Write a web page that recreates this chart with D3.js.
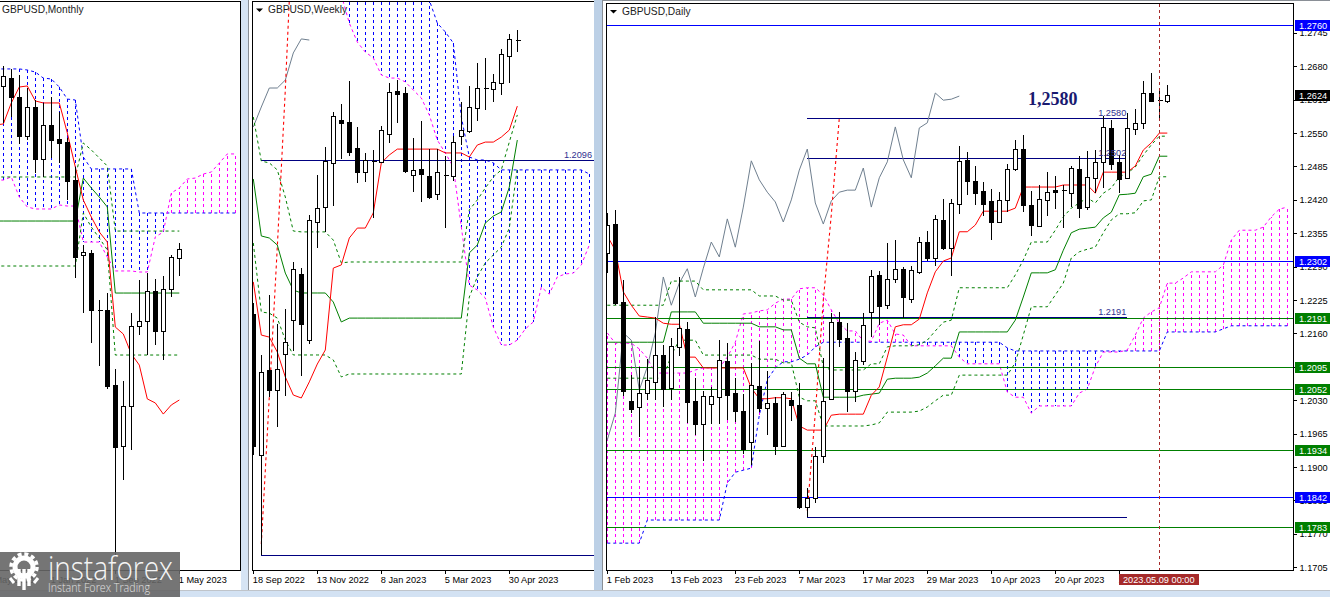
<!DOCTYPE html>
<html><head><meta charset="utf-8">
<script src="https://cdn.jsdelivr.net/npm/d3@7"></script>
<style>html,body{margin:0;padding:0;background:#d3e2f3;overflow:hidden}svg{display:block}
text{font-family:"Liberation Sans",Arial,sans-serif;font-size:9.2px;fill:#000}
</style></head><body><div id="chart"></div>
<script>
// ---------- DAILY ----------
const dailyOpen=[1.2317,1.2373,1.2221,1.2029,1.2017,1.2044,1.2066,1.2118,1.2054,1.2134,1.2169,1.2029,1.1984,1.2023,1.2036,1.2106,1.2044,1.2009,1.1949,1.2058,1.2015,1.2025,1.1941,1.2031,1.2021,1.1822,1.1840,1.1922,1.2033,1.2182,1.2151,1.2048,1.2106,1.2202,1.2274,1.2215,1.2266,1.2286,1.2227,1.2280,1.2338,1.2307,1.2381,1.2326,1.2412,1.2498,1.2457,1.2437,1.2418,1.2377,1.2420,1.2480,1.2519,1.2410,1.2369,1.2420,1.2439,1.2439,1.2433,1.2480,1.2406,1.2463,1.2494,1.2560,1.2494,1.2463,1.2558,1.2570,1.2628,1.2614,1.2612];
const dailyHigh=[1.2394,1.2400,1.2264,1.2079,1.2095,1.2110,1.2192,1.2138,1.2151,1.2270,1.2182,1.2073,1.2048,1.2056,1.2147,1.2141,1.2073,1.2042,1.2103,1.2145,1.2087,1.2036,1.2046,1.2046,1.2064,1.1859,1.1939,1.2112,1.2200,1.2202,1.2180,1.2124,1.2200,1.2284,1.2282,1.2336,1.2342,1.2289,1.2291,1.2348,1.2359,1.2391,1.2422,1.2422,1.2525,1.2513,1.2486,1.2455,1.2441,1.2435,1.2490,1.2537,1.2546,1.2437,1.2449,1.2474,1.2466,1.2449,1.2486,1.2505,1.2515,1.2517,1.2583,1.2575,1.2507,1.2589,1.2597,1.2651,1.2667,1.2638,1.2644];
const dailyLow=[1.2278,1.2215,1.2038,1.2005,1.1959,1.2031,1.2031,1.2017,1.2031,1.2116,1.1986,1.1962,1.1912,1.1984,1.1984,1.1992,1.1988,1.1925,1.1904,1.2007,1.1962,1.1924,1.1939,1.1990,1.1818,1.1803,1.1830,1.1908,1.2031,1.2134,1.2007,1.2027,1.2099,1.2153,1.2177,1.2208,1.2258,1.2190,1.2219,1.2276,1.2301,1.2291,1.2322,1.2272,1.2393,1.2430,1.2410,1.2389,1.2342,1.2375,1.2396,1.2476,1.2396,1.2350,1.2367,1.2389,1.2402,1.2365,1.2406,1.2385,1.2400,1.2433,1.2443,1.2478,1.2433,1.2461,1.2546,1.2558,1.2610,1.2575,1.2609];
const dailyClose=[1.2371,1.2219,1.2048,1.2013,1.2044,1.2070,1.2118,1.2052,1.2136,1.2171,1.2027,1.1984,1.2038,1.2038,1.2108,1.2040,1.2009,1.1935,1.2060,1.2015,1.2025,1.1941,1.2042,1.2021,1.1822,1.1840,1.1922,1.2029,1.2182,1.2149,1.2048,1.2108,1.2177,1.2272,1.2214,1.2266,1.2286,1.2231,1.2284,1.2338,1.2307,1.2383,1.2326,1.2414,1.2496,1.2457,1.2433,1.2412,1.2377,1.2420,1.2480,1.2519,1.2410,1.2371,1.2422,1.2435,1.2435,1.2439,1.2482,1.2404,1.2465,1.2494,1.2562,1.2490,1.2461,1.2560,1.2570,1.2628,1.2612,1.2612,1.2624];
const dailyTenkan=[1.2350,1.2322,1.2241,1.2215,1.2194,1.2192,1.2190,1.2180,1.2178,1.2178,1.2114,1.2114,1.2093,1.2093,1.2093,1.2093,1.2093,1.2093,1.2054,1.2033,1.2033,1.2035,1.2035,1.2033,1.1980,1.1972,1.1972,1.1972,1.2001,1.2003,1.2003,1.2003,1.2003,1.2040,1.2056,1.2114,1.2173,1.2177,1.2177,1.2188,1.2239,1.2280,1.2301,1.2307,1.2358,1.2358,1.2371,1.2398,1.2398,1.2398,1.2398,1.2404,1.2445,1.2445,1.2445,1.2445,1.2445,1.2449,1.2449,1.2449,1.2449,1.2433,1.2474,1.2474,1.2474,1.2474,1.2486,1.2517,1.2531,1.2550,1.2550];
const dailyKijun=[1.2143,1.2143,1.2143,1.2143,1.2143,1.2143,1.2143,1.2143,1.2202,1.2202,1.2202,1.2202,1.2180,1.2180,1.2180,1.2180,1.2180,1.2180,1.2180,1.2173,1.2173,1.2173,1.2167,1.2167,1.2112,1.2101,1.2101,1.2036,1.2036,1.2036,1.2036,1.2036,1.2040,1.2042,1.2044,1.2071,1.2073,1.2073,1.2073,1.2075,1.2083,1.2097,1.2112,1.2112,1.2163,1.2163,1.2163,1.2163,1.2163,1.2163,1.2163,1.2186,1.2231,1.2278,1.2278,1.2278,1.2284,1.2322,1.2356,1.2363,1.2365,1.2367,1.2385,1.2396,1.2430,1.2431,1.2433,1.2465,1.2470,1.2505,1.2505];
const dailyBandUp=[1.2215,1.2215,1.2215,1.2215,1.2215,1.2215,1.2215,1.2215,1.2262,1.2262,1.2262,1.2262,1.2245,1.2245,1.2245,1.2245,1.2245,1.2245,1.2245,1.2233,1.2233,1.2233,1.2225,1.2225,1.2182,1.2173,1.2171,1.2095,1.2089,1.2089,1.2089,1.2089,1.2089,1.2101,1.2101,1.2134,1.2136,1.2136,1.2136,1.2138,1.2147,1.2165,1.2182,1.2186,1.2249,1.2249,1.2249,1.2249,1.2249,1.2249,1.2249,1.2274,1.2303,1.2338,1.2338,1.2338,1.2361,1.2387,1.2404,1.2414,1.2424,1.2414,1.2433,1.2443,1.2465,1.2472,1.2484,1.2507,1.2527,1.2544,1.2544];
const dailyBandDown=[1.2073,1.2073,1.2073,1.2073,1.2073,1.2073,1.2073,1.2073,1.2118,1.2147,1.2147,1.2147,1.2118,1.2118,1.2118,1.2118,1.2118,1.2118,1.2118,1.2110,1.2110,1.2110,1.2103,1.2103,1.2036,1.2029,1.2029,1.1980,1.1980,1.1980,1.1980,1.1980,1.1980,1.1982,1.1986,1.2007,1.2007,1.2007,1.2007,1.2009,1.2017,1.2029,1.2040,1.2040,1.2079,1.2079,1.2079,1.2079,1.2079,1.2079,1.2079,1.2103,1.2157,1.2212,1.2212,1.2212,1.2235,1.2258,1.2307,1.2319,1.2324,1.2328,1.2356,1.2381,1.2393,1.2393,1.2395,1.2418,1.2420,1.2465,1.2465];
const dailyChikou=[1.1953,1.2005,1.2161,1.2147,1.2050,1.2095,1.2161,1.2270,1.2215,1.2258,1.2286,1.2231,1.2287,1.2338,1.2309,1.2383,1.2328,1.2406,1.2496,1.2459,1.2435,1.2416,1.2377,1.2420,1.2478,1.2519,1.2414,1.2373,1.2418,1.2435,1.2439,1.2439,1.2482,1.2406,1.2463,1.2494,1.2562,1.2498,1.2463,1.2560,1.2570,1.2628,1.2614,1.2616,1.2622];
const dailySpanBlue=[1.1752,1.1752,1.1752,1.1752,1.1752,1.1797,1.1797,1.1797,1.1797,1.1797,1.1797,1.1797,1.1797,1.1797,1.1797,1.1869,1.1890,1.1894,1.1898,1.2001,1.2070,1.2093,1.2105,1.2105,1.2110,1.2118,1.2134,1.2143,1.2143,1.2143,1.2143,1.2143,1.2143,1.2143,1.2143,1.2143,1.2143,1.2143,1.2143,1.2143,1.2143,1.2143,1.2143,1.2143,1.2143,1.2143,1.2143,1.2143,1.2143,1.2143,1.2132,1.2126,1.2126,1.2126,1.2126,1.2126,1.2126,1.2126,1.2126,1.2126,1.2126,1.2126,1.2126,1.2126,1.2126,1.2126,1.2126,1.2126,1.2126,1.2126,1.2163,1.2163,1.2163,1.2163,1.2163,1.2163,1.2163,1.2169,1.2175,1.2175,1.2175,1.2175,1.2175,1.2175,1.2175,1.2175];
const dailySpanMagenta=[1.2161,1.2141,1.2141,1.2141,1.2130,1.2112,1.2083,1.2083,1.2083,1.2083,1.2083,1.2089,1.2093,1.2093,1.2093,1.2114,1.2143,1.2198,1.2200,1.2204,1.2206,1.2219,1.2227,1.2227,1.2247,1.2249,1.2249,1.2235,1.2206,1.2180,1.2165,1.2165,1.2145,1.2145,1.2180,1.2186,1.2159,1.2157,1.2136,1.2136,1.2136,1.2136,1.2136,1.2136,1.2114,1.2101,1.2101,1.2101,1.2101,1.2101,1.2046,1.2036,1.2036,1.2005,1.2019,1.2019,1.2019,1.2019,1.2019,1.2044,1.2052,1.2095,1.2124,1.2124,1.2124,1.2128,1.2157,1.2190,1.2202,1.2210,1.2258,1.2258,1.2268,1.2280,1.2280,1.2280,1.2280,1.2293,1.2342,1.2361,1.2361,1.2361,1.2367,1.2387,1.2402,1.2406];
const dailyRedDashBars=[25,26,27,28,29];
const dailyRedDash=[1.1815,1.2005,1.2225,1.2391,1.2579];
const dailyGreenLevels=[1.2191,1.2095,1.2052,1.1934,1.1783];
const dailyBlueLevels=[1.2760,1.2302,1.1842];
const dailyDrawnLevels=[1.2580,1.2502,1.2193,1.1803];
const dailyDrawnFrom=25, dailyDrawnTo=65;
const dailyDrawnLabels=["1.2580","1.2502","1.2191",""];
const dailyTicks=[1.2745,1.2680,1.2615,1.2550,1.2485,1.2420,1.2355,1.2290,1.2225,1.2160,1.2095,1.2030,1.1965,1.1900,1.1835,1.1770,1.1705];
const dailyDateBars=[0,8,16,24,32,40,48,56,64];
const dailyDateLabels=["1 Feb 2023","13 Feb 2023","23 Feb 2023","7 Mar 2023","17 Mar 2023","29 Mar 2023","10 Apr 2023","20 Apr 2023","2 May 2023"];
const dailyLastPrice=1.2624;
const dailyCrossBar=69;
const dailyCrossLabel="2023.05.09 00:00";
const dailyBigLabel="1,2580";
// ---------- WEEKLY ----------
const weeklyOpen=[1.1417,1.0794,1.1170,1.1081,1.1240,1.1391,1.1594,1.1302,1.1824,1.1890,1.2085,1.2275,1.2266,1.2151,1.2045,1.2093,1.2089,1.2213,1.2403,1.2394,1.2031,1.2058,1.2027,1.1948,1.2031,1.2027,1.2204,1.2226,1.2328,1.2416,1.2412,1.2438,1.2557,1.2628];
const weeklyHigh=[1.1466,1.1236,1.1501,1.1373,1.1439,1.1647,1.1620,1.1855,1.2031,1.2155,1.2310,1.2345,1.2447,1.2244,1.2129,1.2142,1.2248,1.2438,1.2451,1.2420,1.2195,1.2270,1.2146,1.2146,1.2116,1.2204,1.2354,1.2425,1.2527,1.2549,1.2478,1.2588,1.2655,1.2672];
const weeklyLow=[1.0794,1.0352,1.1050,1.0918,1.1055,1.1254,1.1143,1.1284,1.1709,1.1780,1.1894,1.2102,1.2116,1.1996,1.2001,1.1841,1.2085,1.2173,1.2261,1.2040,1.1956,1.1912,1.1925,1.1921,1.1797,1.2005,1.2164,1.2217,1.2270,1.2319,1.2354,1.2385,1.2438,1.2575];
const weeklyClose=[1.0834,1.1161,1.1081,1.1174,1.1293,1.1616,1.1373,1.1833,1.1886,1.2093,1.2292,1.2261,1.2133,1.2045,1.2098,1.2089,1.2230,1.2398,1.2389,1.2049,1.2054,1.2036,1.1934,1.2045,1.2027,1.2177,1.2230,1.2332,1.2416,1.2412,1.2443,1.2566,1.2633,1.2624];
const weeklyTenkan=[1.1559,1.1324,1.1315,1.1249,1.1139,1.1059,1.1046,1.1117,1.1196,1.1258,1.1620,1.1634,1.1753,1.1797,1.1797,1.1864,1.2085,1.2120,1.2146,1.2146,1.2146,1.2146,1.2146,1.2146,1.2129,1.2129,1.2129,1.2111,1.2164,1.2177,1.2177,1.2199,1.2230,1.2336];
const weeklyKijun=[1.2014,1.1762,1.1753,1.1722,1.1598,1.1523,1.1510,1.1510,1.1510,1.1510,1.1470,1.1382,1.1399,1.1399,1.1399,1.1399,1.1399,1.1399,1.1399,1.1399,1.1399,1.1399,1.1399,1.1399,1.1399,1.1399,1.1399,1.1687,1.1722,1.1819,1.1850,1.1868,1.1978,1.2186];
const weeklyBandUp=[1.2288,1.2093,1.2085,1.2054,1.1934,1.1784,1.1780,1.1780,1.1780,1.1780,1.1744,1.1643,1.1647,1.1647,1.1647,1.1647,1.1647,1.1647,1.1647,1.1647,1.1647,1.1647,1.1647,1.1647,1.1647,1.1647,1.1647,1.1877,1.1921,1.1974,1.2023,1.2054,1.2177,1.2297];
const weeklyBandDown=[1.1731,1.1426,1.1421,1.1399,1.1302,1.1236,1.1236,1.1236,1.1236,1.1236,1.1214,1.1139,1.1152,1.1152,1.1152,1.1152,1.1152,1.1152,1.1152,1.1152,1.1152,1.1152,1.1152,1.1152,1.1152,1.1152,1.1152,1.1492,1.1581,1.1643,1.1678,1.1713,1.1797,1.2062];
const weeklyChikou=[1.2244,1.2332,1.2416,1.2416,1.2451,1.2571,1.2633,1.2628];
const weeklySpanStart=11;
const weeklySpanBlue=[1.2849,1.2849,1.2849,1.2849,1.2849,1.2849,1.2849,1.2849,1.2849,1.2849,1.2849,1.2805,1.2703,1.2664,1.2615,1.2288,1.2111,1.2098,1.2098,1.2085,1.2054,1.2054,1.2054,1.2054,1.2054,1.2054,1.2054,1.2054,1.2054,1.2054,1.2054,1.2036];
const weeklySpanMagenta=[1.2827,1.2703,1.2619,1.2575,1.2549,1.2474,1.2460,1.2460,1.2443,1.2407,1.2372,1.2297,1.2186,1.2129,1.2067,1.1802,1.1545,1.1523,1.1488,1.1360,1.1280,1.1280,1.1302,1.1351,1.1382,1.1536,1.1505,1.1581,1.1594,1.1598,1.1634,1.1722];
const weeklyRedDashBars=[1,2,3,4,5];
const weeklyRedDash=[1.0400,1.1050,1.1713,1.2407,1.3203];
const weeklyDrawnLevels=[1.2096,1.0351];
const weeklyDrawnFrom=1;
const weeklyDrawnLabel="1.2096";
const weeklyDateBars=[0,8,16,24,32];
const weeklyDateLabels=["18 Sep 2022","13 Nov 2022","8 Jan 2023","5 Mar 2023","30 Apr 2023"];
// ---------- MONTHLY ----------
const monthlyOpen=[1.3853,1.3912,1.3770,1.3479,1.3696,1.3307,1.3561,1.3457,1.3434,1.3150,1.2590,1.2605,1.2179,1.2179,1.1619,1.1163,1.1462,1.2060,1.2097,1.2321,1.2022,1.2336,1.2568];
const monthlyHigh=[1.4002,1.3980,1.3935,1.3838,1.3748,1.3726,1.3770,1.3658,1.3464,1.3248,1.2665,1.2628,1.2254,1.2306,1.1739,1.1649,1.2157,1.2403,1.2456,1.2411,1.2433,1.2590,1.2680];
const monthlyLow=[1.3576,1.3621,1.3419,1.3449,1.3203,1.3173,1.3315,1.3277,1.3001,1.2418,1.2157,1.1933,1.1761,1.1589,1.0342,1.0909,1.1134,1.1993,1.1843,1.1918,1.1806,1.2276,1.2433];
const monthlyClose=[1.3927,1.3770,1.3479,1.3696,1.3307,1.3561,1.3449,1.3427,1.3143,1.2575,1.2613,1.2179,1.2172,1.1612,1.1156,1.1462,1.2060,1.2097,1.2321,1.2022,1.2336,1.2575,1.2635];
const monthlyLineStart=-1;
const monthlyTenkan=[1.3561,1.3569,1.3726,1.3845,1.3853,1.3741,1.3726,1.3726,1.3726,1.3502,1.3248,1.3001,1.2874,1.2762,1.2687,1.2052,1.2000,1.1851,1.1768,1.1515,1.1485,1.1402,1.1470,1.1507];
const monthlyKijun=[1.2844,1.2844,1.2844,1.2844,1.2844,1.2844,1.2844,1.2844,1.2844,1.2844,1.2844,1.3165,1.3091,1.3023,1.2949,1.2306,1.2306,1.2306,1.2306,1.2306,1.2306,1.2306,1.2306,1.2306];
const monthlyBandUp=[1.3173,1.3173,1.3173,1.3173,1.3173,1.3173,1.3173,1.3173,1.3173,1.3173,1.3173,1.3427,1.3375,1.3315,1.3255,1.2769,1.2769,1.2769,1.2769,1.2769,1.2769,1.2769,1.2769,1.2769];
const monthlyBandDown=[1.2508,1.2508,1.2508,1.2508,1.2508,1.2508,1.2508,1.2508,1.2508,1.2508,1.2508,1.2904,1.2799,1.2717,1.2628,1.1843,1.1843,1.1843,1.1843,1.1843,1.1843,1.1843,1.1843,1.1843];
const monthlySpanBlue=[1.3980,1.3980,1.3980,1.3980,1.3972,1.3957,1.3912,1.3905,1.3845,1.3755,1.3748,1.3322,1.3233,1.3233,1.3233,1.3233,1.3233,1.3233,1.2904,1.2904,1.2904,1.2904,1.2904,1.2904,1.2904,1.2904,1.2904,1.2904,1.2904,1.2904,1.2904];
const monthlySpanMagenta=[1.3150,1.3150,1.3173,1.3023,1.2949,1.2934,1.2934,1.2934,1.2964,1.2956,1.2956,1.2687,1.2687,1.2687,1.2575,1.2471,1.2471,1.2471,1.2463,1.2463,1.2725,1.2762,1.3053,1.3091,1.3158,1.3165,1.3195,1.3210,1.3277,1.3345,1.3345];
const monthlyDateBars=[-2,6,14,22];
const monthlyDateLabels=["1 May 2021","1 Jan 2022","1 Sep 2022","1 May 2023"];

// ---------- SCALES ----------
const H=597,W=1330;
const yD=d3.scaleLinear().domain([1.2809,1.16472]).range([0,H]);
const yW=d3.scaleLinear().domain([1.2805,1.01663]).range([0,H]);
const yM=d3.scaleLinear().domain([1.4495,1.00355]).range([0,H]);
const xD=d3.scaleLinear().domain([0,70]).range([607.3,1167.3]);
const xW=d3.scaleLinear().domain([0,33]).range([253.3,517.3]);
const xM=d3.scaleLinear().domain([0,22]).range([3.3,179.3]);

const C={red:"#ff0000",green:"#007f00",blue:"#0000ff",mag:"#ff00ff",gray:"#6f7f8f",navy:"#191970",brown:"#a52a2a"};
const svg=d3.select("#chart").append("svg").attr("width",W).attr("height",H);
const defs=svg.append("defs");

function rect(g,x,y,w,h,f){return g.append("rect").attr("x",x).attr("y",y).attr("width",w).attr("height",h).attr("fill",f).attr("shape-rendering","crispEdges");}
function hline(g,x1,x2,y,c,sw){return g.append("line").attr("x1",x1).attr("x2",x2).attr("y1",Math.round(y)+.5).attr("y2",Math.round(y)+.5).attr("stroke",c).attr("stroke-width",sw||1).attr("shape-rendering","crispEdges");}

// window chrome
rect(svg,0,0,W,H,"#d3e2f3");
rect(svg,241,0,7,591,"#d6e4f4");
rect(svg,248,0,1,591,"#8a8f96");
rect(svg,594,0,8,591,"#bcd0e6");
rect(svg,602,0,1,591,"#8a8f96");
rect(svg,0,0,241,591,"#fff");
rect(svg,249,0,345,591,"#fff");
rect(svg,603,0,727,591,"#fff");
rect(svg,603,0,727,1,"#8a8f96");
rect(svg,0,590,W,1,"#bfc4ca");

function panel(id,box,x,y,o){
  defs.append("clipPath").attr("id",id).append("rect").attr("x",box[0]).attr("y",box[1]).attr("width",box[2]-box[0]).attr("height",box[3]-box[1]);
  const g=svg.append("g").attr("clip-path",`url(#${id})`);
  const st=o.spanStart||0;
  const hatch=g.append("g");
  o.blue.forEach((b,i)=>{const m=o.mag[i],k=i+st,top=b>=m?C.blue:C.mag;
    hatch.append("line").attr("x1",Math.round(x(k))+.5).attr("x2",Math.round(x(k))+.5)
      .attr("y1",y(b)).attr("y2",y(m)).attr("stroke",top).attr("stroke-dasharray","3,3").attr("shape-rendering","crispEdges");});
  const path=(vals,c,dash,start,sw,bars)=>{
    const l=d3.line().x((d,i)=>x(bars?bars[i]:i+start)).y(d=>y(d));
    const p=g.append("path").attr("d",l(vals)).attr("fill","none").attr("stroke",c).attr("stroke-width",sw||1);
    if(dash)p.attr("stroke-dasharray",dash);return p;};
  path(o.blue,C.blue,"3,3",st);path(o.mag,C.mag,"3,3",st);
  (o.levels||[]).forEach(fn=>fn(g));
  const ls=o.lineStart||0;
  if(o.chikou)path(o.chikou,C.gray,null,0);
  if(o.redDash)path(o.redDash,C.red,"3,3",0,1.1,o.redDashBars);
  path(o.bandUp,C.green,"3,3",ls);path(o.bandDown,C.green,"3,3",ls);
  path(o.kijun,C.green,null,ls,1);path(o.tenkan,C.red,null,ls,1);
  const cg=g.append("g").attr("shape-rendering","crispEdges");
  o.c.forEach((d,i)=>{const cx=Math.round(x(i))+.5;
    cg.append("line").attr("x1",cx).attr("x2",cx).attr("y1",y(d.h)).attr("y2",y(d.l)).attr("stroke","#000").attr("stroke-width",1);
    const t=Math.round(y(Math.max(d.o,d.c)))+.5,b=Math.round(y(Math.min(d.o,d.c)))+.5,up=d.c>d.o;
    if(b-t<1.5){cg.append("line").attr("x1",cx-2).attr("x2",cx+3).attr("y1",t).attr("y2",t).attr("stroke","#000");}
    else cg.append("rect").attr("x",cx-2).attr("y",t).attr("width",4).attr("height",b-t).attr("fill",up?"#fff":"#000").attr("stroke","#000");
  });
  return g;
}
const zip=(O,H_,L,Cl)=>O.map((v,i)=>({o:v,h:H_[i],l:L[i],c:Cl[i]}));

panel("pm",[0,2,240,570],xM,yM,{c:zip(monthlyOpen,monthlyHigh,monthlyLow,monthlyClose),
  blue:monthlySpanBlue,mag:monthlySpanMagenta,spanStart:-1,lineStart:monthlyLineStart,
  tenkan:monthlyTenkan,kijun:monthlyKijun,bandUp:monthlyBandUp,bandDown:monthlyBandDown});
panel("pw",[253,2,594,570],xW,yW,{c:zip(weeklyOpen,weeklyHigh,weeklyLow,weeklyClose),
  blue:weeklySpanBlue,mag:weeklySpanMagenta,spanStart:weeklySpanStart,
  tenkan:weeklyTenkan,kijun:weeklyKijun,bandUp:weeklyBandUp,bandDown:weeklyBandDown,chikou:weeklyChikou,
  redDash:weeklyRedDash,redDashBars:weeklyRedDashBars,
  levels:weeklyDrawnLevels.map(v=>g=>hline(g,xW(weeklyDrawnFrom),594,yW(v),"#000080",1))});
panel("pd",[607,4,1293,570],xD,yD,{c:zip(dailyOpen,dailyHigh,dailyLow,dailyClose),
  blue:dailySpanBlue,mag:dailySpanMagenta,
  tenkan:dailyTenkan,kijun:dailyKijun,bandUp:dailyBandUp,bandDown:dailyBandDown,chikou:dailyChikou,
  redDash:dailyRedDash,redDashBars:dailyRedDashBars,
  levels:[g=>{dailyGreenLevels.forEach(v=>hline(g,607,1293,yD(v),"#007f00",1));
    dailyBlueLevels.forEach(v=>hline(g,607,1293,yD(v),"#0000ff",1));
    dailyDrawnLevels.forEach(v=>hline(g,xD(dailyDrawnFrom),xD(dailyDrawnTo),yD(v),"#000080",1));}]});

const fr=svg.append("g").attr("shape-rendering","crispEdges").attr("stroke","#000").attr("fill","none");
fr.append("path").attr("d","M0,1.5H240.5V570.5H0");
fr.append("path").attr("d","M594,1.5H252.5V570.5H594");
fr.append("path").attr("d","M606.5,3.5H1293.5V570.5H606.5Z");

function dateAxis(x,bars,labels){
  const ax=d3.axisBottom(x).tickValues(bars).tickSize(3).tickPadding(3).tickFormat((d,i)=>labels[i]);
  const g=svg.append("g").attr("transform","translate(0,570.5)").call(ax);
  g.select(".domain").remove();
  g.selectAll(".tick line").attr("stroke","#000").attr("shape-rendering","crispEdges");
  g.selectAll(".tick text").attr("text-anchor","start").attr("x",-1).attr("dy","0.71em");
  return g;
}
dateAxis(xM,monthlyDateBars,monthlyDateLabels);
dateAxis(xW,weeklyDateBars,weeklyDateLabels);
dateAxis(xD,dailyDateBars,dailyDateLabels);

const py=d3.axisRight(yD).tickValues(dailyTicks).tickSize(3).tickPadding(3).tickFormat(d3.format(".4f"));
const pg=svg.append("g").attr("transform","translate(1293.5,0)").call(py);
pg.select(".domain").remove();
pg.selectAll(".tick line").attr("stroke","#000").attr("shape-rendering","crispEdges");

function box(v,bg){const yy=Math.round(yD(v));rect(svg,1295,yy-5,35,11,bg);
  svg.append("text").attr("x",1299).attr("y",yy+3.5).style("fill","#fff").text(v.toFixed(4));}
dailyGreenLevels.forEach(v=>box(v,"#007f00"));
dailyBlueLevels.forEach(v=>box(v,"#0000ff"));
box(dailyLastPrice,"#000");

dailyDrawnLevels.forEach((v,i)=>{if(dailyDrawnLabels[i])svg.append("text").attr("x",xD(dailyDrawnTo)-1).attr("y",yD(v)-2).attr("text-anchor","end").style("fill","#303090").text(dailyDrawnLabels[i]);});
svg.append("text").attr("x",592).attr("y",yW(weeklyDrawnLevels[0])-2.5).attr("text-anchor","end").style("fill","#303090").text(weeklyDrawnLabel);
svg.append("text").attr("x",1028).attr("y",105).style("font-family","'Liberation Serif',serif").style("font-weight","bold").style("font-size","18px").style("fill","#191970").text(dailyBigLabel);

function title(x,y,t){svg.append("text").attr("x",x).attr("y",y).style("fill","#222").style("font-size","10.2px").text(t);}
title(2,13,"GBPUSD,Monthly");title(268,13,"GBPUSD,Weekly");title(622,14.5,"GBPUSD,Daily");
svg.append("path").attr("d","M256,8.5h7l-3.5,3.5z").attr("fill","#000");
svg.append("path").attr("d","M610,10h7l-3.5,3.5z").attr("fill","#000");

const cx=Math.round(xD(dailyCrossBar))+.5;
svg.append("line").attr("x1",cx).attr("x2",cx).attr("y1",4).attr("y2",570).attr("stroke",C.brown).attr("stroke-dasharray","3,3").attr("shape-rendering","crispEdges");
rect(svg,1119,574,80,11,C.brown);
svg.append("text").attr("x",1123).attr("y",582.7).style("fill","#fff").text(dailyCrossLabel);

const wm=svg.append("g");
wm.append("rect").attr("x",0).attr("y",552).attr("width",180).attr("height",45).attr("fill","#666").attr("opacity",.9);
const gear=wm.append("g").attr("stroke","#fff").attr("fill","none");
gear.append("circle").attr("cx",24).attr("cy",567).attr("r",9).attr("stroke-width",5);
gear.append("circle").attr("cx",24).attr("cy",567).attr("r",13).attr("stroke-width",3.5).attr("stroke-dasharray","4,2.8");
[19,24,29].forEach((vx,i)=>gear.append("line").attr("x1",vx).attr("x2",vx).attr("y1",569).attr("y2",[586,590,586][i]).attr("stroke-width",3.4));
gear.append("line").attr("x1",10).attr("x2",14).attr("y1",578).attr("y2",583).attr("stroke-width",3);
gear.append("line").attr("x1",38).attr("x2",34).attr("y1",578).attr("y2",583).attr("stroke-width",3);
wm.append("text").attr("x",48).attr("y",580).attr("textLength",125).attr("lengthAdjust","spacingAndGlyphs")
  .style("font-family","'Open Sans',sans-serif").style("font-weight","300").style("font-size","33px").style("fill","#f4f4f4").text("instaforex");
wm.append("text").attr("x",48).attr("y",592).attr("textLength",102).attr("lengthAdjust","spacingAndGlyphs")
  .style("font-family","'Open Sans',sans-serif").style("font-weight","300").style("font-size","12.5px").style("fill","#e0e0e0").text("Instant Forex Trading");
</script></body></html>
